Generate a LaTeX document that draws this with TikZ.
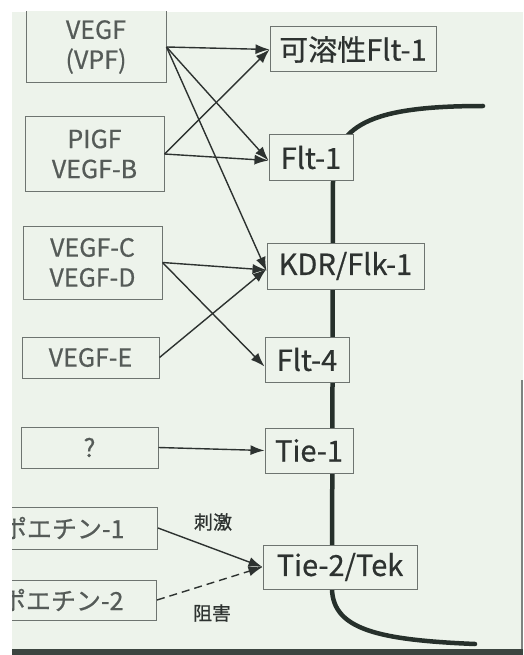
\documentclass[tikz,border=0pt]{standalone}
\usepackage{fontspec}
\setmainfont{Noto Sans CJK JP}[FakeBold=0.6]
\usepackage{tikz}
\usetikzlibrary{positioning,arrows.meta}
\definecolor{paperc}{RGB}{237,243,235}
\definecolor{inkc}{RGB}{45,50,48}
\definecolor{greyc}{RGB}{85,91,88}
\definecolor{framec}{RGB}{110,116,112}
\definecolor{membc}{RGB}{38,48,43}
\tikzset{
  ligand/.style   = {draw=framec, line width=1pt, fill=paperc, align=center,
                     inner sep=0pt, text=greyc, font=\fontsize{25}{30}\selectfont},
  receptor/.style = {draw=framec, line width=1pt, fill=paperc, align=center,
                     inner sep=0pt, text=inkc, font=\fontsize{29}{32}\selectfont},
  bind/.style     = {-{Latex[length=14pt,width=10pt]}, line width=1.4pt, draw=inkc},
  inhib/.style    = {bind, dash pattern=on 8pt off 5pt},
  membrane/.style = {line width=4.5pt, draw=membc, line cap=round},
  lbl/.style      = {font=\fontsize{19}{20}\selectfont, text=inkc},
}

\begin{document}
\begin{tikzpicture}[x=1pt, y=-1pt]
\useasboundingbox (0,0) rectangle (523,655);
\fill[white] (0,0) rectangle (523,655);
\fill[paperc] (12,12) rectangle (523,655);

\begin{scope}
\clip (12,12) rectangle (523,655);

% ---------- cell membrane ----------
\draw[membrane] (483,106) .. controls (370,106) and (333,125) .. (333,180)
  -- (332,589) .. controls (333,630) and (380,640) .. (475,644);

% ---------- ligands ----------
\node[ligand, minimum width=140pt, minimum height=72pt] (vegf) at (96,47) {VEGF\\(VPF)};
\node[ligand, minimum width=139pt, minimum height=74pt] (plgf) at (94.5,154) {PIGF\\VEGF-B};
\node[ligand, minimum width=139pt, minimum height=73pt] (vegfcd) at (92.5,262.5) {VEGF-C\\VEGF-D};
\node[ligand, minimum width=137pt, minimum height=41pt] (vegfe) at (90.5,357.5) {VEGF-E};
\node[ligand, minimum width=137pt, minimum height=41pt] (unk) at (89.5,447.5) {?};
\node[ligand, anchor=east, text width=140pt, align=right, inner xsep=33pt,
      minimum height=42pt, font=\fontsize{25}{28}\selectfont] (ang1) at (158,528) {ポエチン-1};
\node[ligand, anchor=east, text width=140pt, align=right, inner xsep=33pt,
      minimum height=40pt, font=\fontsize{25}{28}\selectfont] (ang2) at (157,600) {ポエチン-2};

% ---------- receptors ----------
\node[receptor, minimum width=166pt, minimum height=45pt] (sflt1) at (353,49.5) {可溶性Flt-1};
\node[receptor, minimum width=84pt, minimum height=45pt] (flt1) at (311,157.5) {Flt-1};
\node[receptor, minimum width=157pt, minimum height=46pt] (kdr) at (345.5,266) {KDR/Flk-1};
\node[receptor, minimum width=84pt, minimum height=45pt] (flt4) at (307,359.5) {Flt-4};
\node[receptor, minimum width=88pt, minimum height=45pt] (tie1) at (309,450.5) {Tie-1};
\node[receptor, minimum width=154pt, minimum height=44pt] (tie2) at (340,567) {Tie-2/Tek};

% ---------- binding ----------
\draw[bind] (vegf.east) -- (sflt1.west);
\draw[bind] (vegf.east) -- ([yshift=-3pt]flt1.west);
\draw[bind] (vegf.east) -- ([yshift=-5pt]kdr.west);
\draw[bind] (plgf.east) -- (sflt1.west);
\draw[bind] (plgf.east) -- ([yshift=-3pt]flt1.west);
\draw[bind] (vegfcd.east) -- ([yshift=-4pt]kdr.west);
\draw[bind] (vegfcd.east) -- ([yshift=-7pt]flt4.west);
\draw[bind] (vegfe.east) -- ([yshift=-3pt]kdr.west);
\draw[bind] (unk.east) -- (tie1.west);
\draw[bind] (ang1.east) -- (tie2.west);
\draw[inhib] (ang2.east) -- (tie2.west);
\node[lbl] (stim) at (213,522) {刺激};
\node[lbl] (block) at (212,613) {阻害};
\end{scope}

% scan edges
\fill[membc!90] (12,649) rectangle (523,655);
\draw[membc!60, line width=2pt] (521.5,380) -- (521.5,649);
\end{tikzpicture}
\end{document}
